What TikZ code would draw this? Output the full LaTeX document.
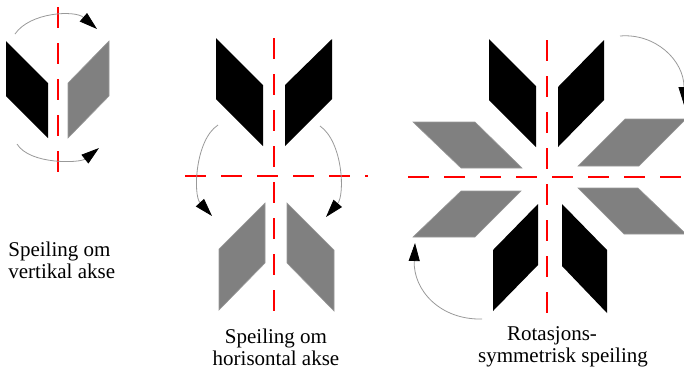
\documentclass[tikz,border=0pt]{standalone}
\usepackage{fontspec}
\setmainfont{Liberation Serif}
\usetikzlibrary{arrows.meta}
\tikzset{
  dark/.style={fill=black},
  light/.style={fill=black!50, draw=black!40, line width=0.3pt},
  axis/.style={draw=red, line width=0.6pt, dash pattern=on 10.5pt off 7.5pt},
  turn/.style={draw=black!40, line width=0.4pt, -{Triangle[length=9pt,width=5.5pt,color=black]}},
  txt/.style={font=\fontsize{10.5}{11}\selectfont, align=center, inner sep=0pt}
}
\begin{document}
\begin{tikzpicture}[x=0.5pt, y=-0.5pt]
\useasboundingbox (0,0) rectangle (684,372);
% vertikal akse
\fill[dark] (6,41) -- (48,83) -- (48,138) -- (6,96) -- cycle;
\filldraw[light] (68,83) -- (109,41) -- (109,96) -- (68,138) -- cycle;
\draw[axis] (58,7) -- (58,185);
\draw[turn] (15,34) .. controls (30,12) and (75,10) .. (97,29);
\draw[turn] (17,144) .. controls (30,165) and (80,163) .. (99,148);
\node[txt, align=left, anchor=west] (vert) at (8,260) {Speiling om\\vertikal akse};
% horisontal akse
\fill[dark] (216,38) -- (263,85) -- (263,146) -- (216,99) -- cycle;
\fill[dark] (285,85) -- (332,39) -- (332,99) -- (285,146) -- cycle;
\filldraw[light] (219,249) -- (265,203) -- (265,263) -- (219,310) -- cycle;
\filldraw[light] (287,203) -- (334,250) -- (334,311) -- (287,263) -- cycle;
\draw[axis] (274,38) -- (274,315);
\draw[axis] (185,176) -- (368,176);
\draw[turn] (218,125) .. controls (195,140) and (193,195) .. (212,216);
\draw[turn] (320,126) .. controls (343,142) and (345,195) .. (326,217);
\node[txt] (hori) at (276,347) {Speiling om\\horisontal akse};
% rotasjon
\fill[dark] (489,39) -- (536,86) -- (536,147) -- (489,100) -- cycle;
\fill[dark] (558,87) -- (604,40) -- (604,100) -- (558,147) -- cycle;
\fill[dark] (493,250) -- (538,204) -- (538,265) -- (493,311) -- cycle;
\fill[dark] (562,204) -- (607,250) -- (607,313) -- (562,266) -- cycle;
\filldraw[light] (413,122) -- (475,122) -- (522,168) -- (461,168) -- cycle;
\filldraw[light] (578,166) -- (625,119) -- (686,119) -- (639,166) -- cycle;
\filldraw[light] (413,237) -- (461,191) -- (521,191) -- (475,237) -- cycle;
\filldraw[light] (578,188) -- (638,188) -- (686,234) -- (624,234) -- cycle;
\draw[axis] (547,40) -- (547,317);
\draw[axis] (408,177) -- (684,177);
\draw[turn] (620,36) .. controls (655,33) and (684,60) .. (684,105);
\draw[turn] (482,319) .. controls (440,320) and (413,290) .. (415,243);
\node[txt] (rot) at (563,347) {Rotasjons-\hspace*{11pt}\\symmetrisk speiling};
\end{tikzpicture}
\end{document}
